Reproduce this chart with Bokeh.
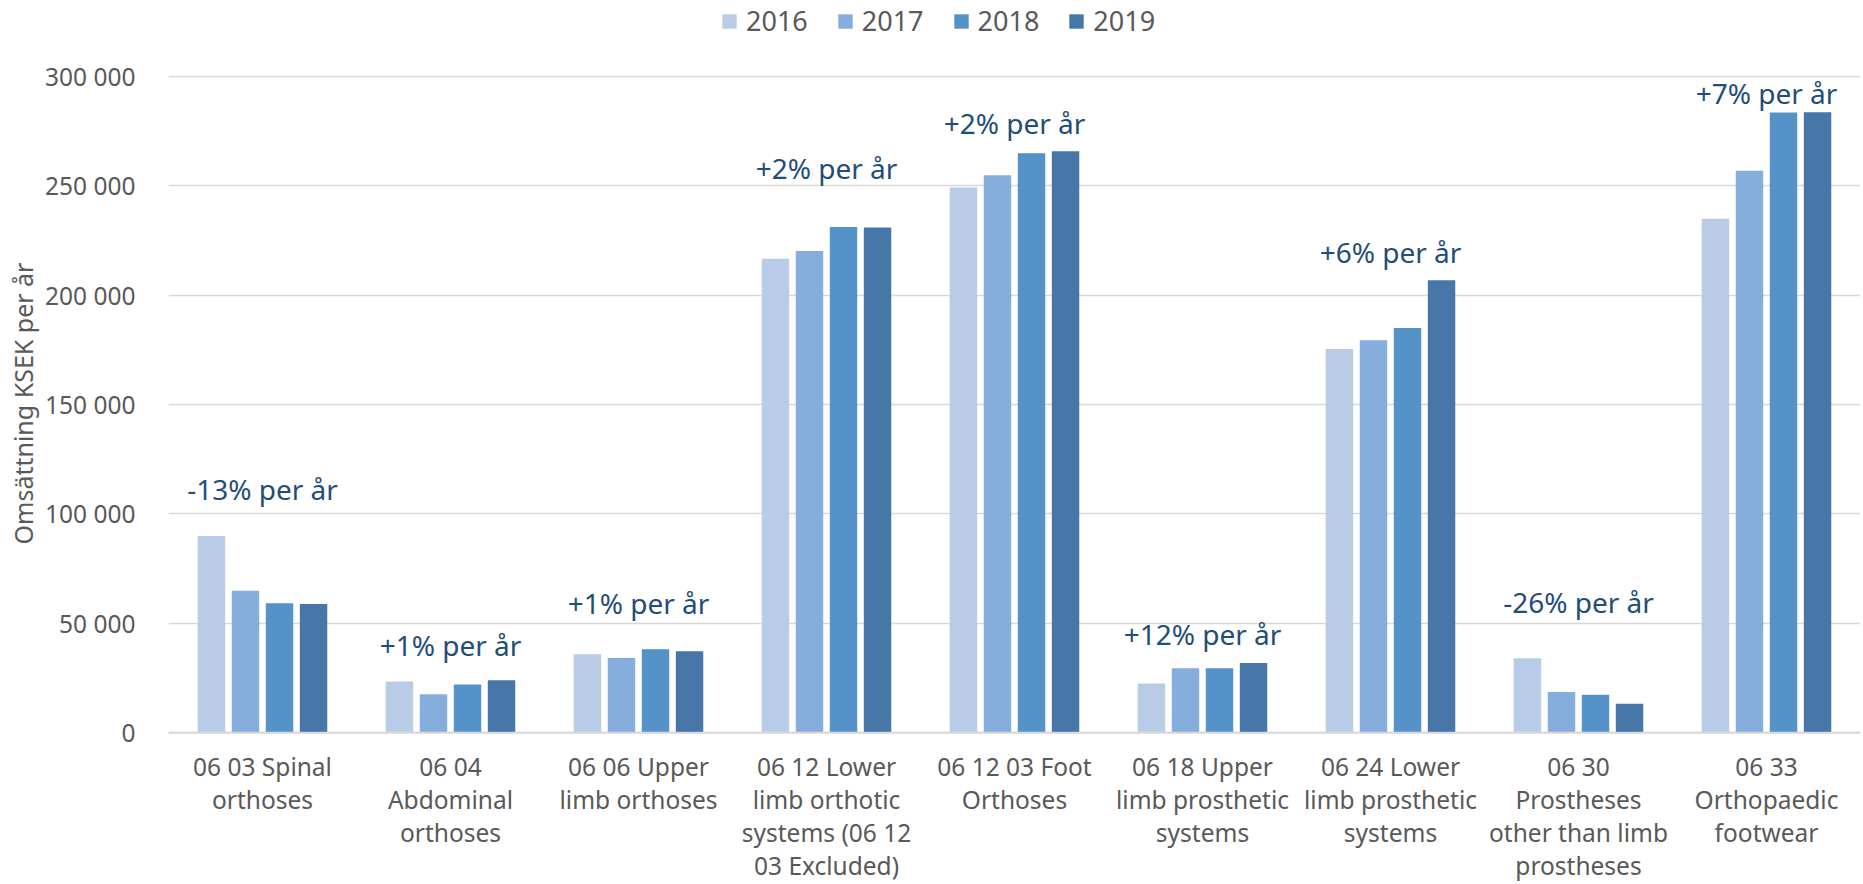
from bokeh.plotting import figure
from bokeh.models import FactorRange, Range1d, FixedTicker, Legend, LegendItem, Span, ColumnDataSource, Title
from bokeh.transform import dodge
from bokeh.core.properties import value
from bokeh.embed import file_html
from bokeh.resources import INLINE

categories = [
    "06 03 Spinal\northoses",
    "06 04\nAbdominal\northoses",
    "06 06 Upper\nlimb orthoses",
    "06 12 Lower\nlimb orthotic\nsystems (06 12\n03 Excluded)",
    "06 12 03 Foot\nOrthoses",
    "06 18 Upper\nlimb prosthetic\nsystems",
    "06 24 Lower\nlimb prosthetic\nsystems",
    "06 30\nProstheses\nother than limb\nprostheses",
    "06 33\nOrthopaedic\nfootwear",
]
years = ["2016", "2017", "2018", "2019"]
v2016 = [89900, 23400, 35900, 216700, 249300, 22500, 175400, 34100, 235000]
v2017 = [64900, 17600, 34200, 220200, 254800, 29500, 179400, 18600, 256900]
v2018 = [59200, 22000, 38200, 231200, 264900, 29500, 185000, 17400, 283500]
v2019 = [58800, 24000, 37300, 231000, 265800, 31900, 206800, 13300, 283700]
growth_labels = ["-13% per år", "+1% per år", "+1% per år", "+2% per år", "+2% per år",
                 "+12% per år", "+6% per år", "-26% per år", "+7% per år"]
growth_label_y = [110000, 38600, 57900, 256900, 277400, 43800, 218400, 58500, 291300]
y_ticks = [0, 50000, 100000, 150000, 200000, 250000, 300000]
y_tick_labels = ["0", "50 000", "100 000", "150 000", "200 000", "250 000", "300 000"]
y_title = "Omsättning KSEK per år"

colors = ["#B8CCE8", "#86AEDC", "#5592C8", "#4677A8"]
offsets = [-0.2715, -0.0905, 0.0905, 0.2715]
FONT = "Noto Sans"
GREY = "#595959"

src = ColumnDataSource(dict(cat=categories, y2016=v2016, y2017=v2017, y2018=v2018, y2019=v2019,
                            lab=growth_labels, ly=growth_label_y))

# the frame reaches the top of the canvas so that the legend can sit above the 300 000 line
p = figure(width=1863, height=884,
           x_range=FactorRange(factors=categories, range_padding=0),
           y_range=Range1d(-800, 334730),
           output_backend="svg", toolbar_location=None,
           min_border_left=168, min_border_right=3, min_border_top=0, min_border_bottom=140)

p.outline_line_color = None
p.xgrid.visible = False
p.ygrid.grid_line_color = "#D9D9D9"
p.ygrid.grid_line_width = 1.5
p.ygrid.ticker = FixedTicker(ticks=y_ticks)

renderers = []
for yr, col, off in zip(years, colors, offsets):
    r = p.vbar(x=dodge("cat", off, range=p.x_range), top="y" + yr, bottom=0, width=0.146,
               source=src, fill_color=col, line_color=None)
    renderers.append(r)

p.add_layout(Span(location=0, dimension="width", line_color="#D9D9D9", line_width=2))

p.text(x="cat", y="ly", text="lab", source=src, text_align="center", text_baseline="middle",
       y_offset=-3,
       text_font=value(FONT), text_font_size=value("28px"), text_color="#1F4E79")

legend = Legend(items=[LegendItem(label=yr, renderers=[r]) for yr, r in zip(years, renderers)],
                orientation="horizontal", location=(552, 695),
                glyph_width=18, glyph_height=18, label_standoff=8, spacing=28,
                padding=0, margin=0, border_line_color=None, background_fill_alpha=0,
                label_text_font=FONT, label_text_font_size="27px", label_text_color=GREY)
p.add_layout(legend)

p.yaxis.ticker = FixedTicker(ticks=y_ticks)
p.yaxis.major_label_overrides = dict(zip(y_ticks, y_tick_labels))
p.yaxis.axis_line_color = None
p.yaxis.major_tick_line_color = None
p.yaxis.minor_tick_line_color = None
p.yaxis.major_label_standoff = 27
p.yaxis.major_label_text_font = FONT
p.yaxis.major_label_text_font_size = "24.5px"
p.yaxis.major_label_text_color = GREY

p.add_layout(Title(text=y_title, align="left", offset=190, vertical_align="middle", standoff=4,
                   text_font=FONT, text_font_size="25px", text_font_style="normal",
                   text_color=GREY), "left")

p.xaxis.axis_line_color = None
p.xaxis.major_tick_line_color = None
p.xaxis.minor_tick_line_color = None
p.xaxis.major_label_standoff = 9
p.xaxis.major_label_text_font = FONT
p.xaxis.major_label_text_font_size = "24.5px"
p.xaxis.major_label_text_color = GREY
p.xaxis.major_label_text_line_height = 1.0

open("out.html", "w").write(file_html(p, INLINE))
